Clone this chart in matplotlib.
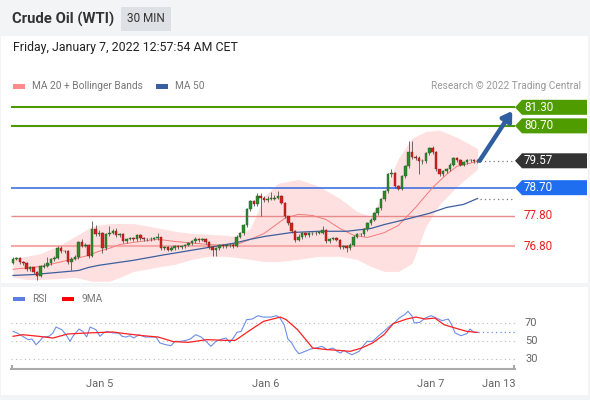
import matplotlib
matplotlib.use("Agg")
import matplotlib.pyplot as plt
from matplotlib.patches import Rectangle, Polygon
from matplotlib.transforms import blended_transform_factory

plt.rcParams['font.family'] = ['Roboto', 'DejaVu Sans']

title = "Crude Oil (WTI)"
interval = "30 MIN"
timestamp = "Friday, January 7, 2022 12:57:54 AM CET"
credit = "Research \u00a9 2022 Trading Central"

# 30 minute candles, open of each bar = previous close
open0 = 76.26
closes = [76.40, 76.42, 76.28, 76.26, 76.06, 76.12, 75.96, 75.85, 76.15, 76.18,
          76.25, 76.38, 76.42, 76.74, 76.65, 76.64, 76.28, 76.40, 76.45, 76.93,
          76.82, 76.85, 76.48, 77.35, 77.19, 77.25, 76.74, 77.19, 77.25, 77.29,
          77.16, 77.19, 76.96, 77.03, 77.06, 77.03, 77.16, 77.06, 77.03, 77.03,
          77.03, 77.06, 77.09, 76.74, 76.77, 76.70, 76.74, 76.80, 76.77, 76.80,
          76.83, 76.90, 76.96, 77.03, 77.00, 77.03, 76.93, 76.77, 76.67, 76.74,
          76.83, 76.80, 76.83, 76.86, 76.80, 77.12, 77.22, 77.48, 78.00, 78.26,
          78.16, 78.42, 78.37, 78.29, 78.35, 78.35, 78.38, 78.42, 78.22, 77.77,
          77.55, 77.29, 77.00, 77.09, 77.22, 77.16, 77.22, 77.22, 77.25, 77.25,
          77.32, 76.96, 77.03, 77.06, 77.00, 76.77, 76.80, 76.74, 76.86, 77.12,
          77.19, 77.19, 77.35, 77.55, 77.67, 77.87, 78.03, 78.32, 78.58, 79.13,
          79.16, 78.74, 78.67, 79.07, 79.39, 79.87, 79.68, 79.65, 79.55, 79.55,
          79.81, 79.97, 79.87, 79.29, 79.13, 79.23, 79.29, 79.45, 79.65, 79.58,
          79.45, 79.52, 79.58, 79.58, 79.55, 79.57]
highs = [76.45, 76.47, 76.46, 76.32, 76.30, 76.17, 76.15, 76.00, 76.20, 76.26,
         76.45, 76.44, 76.50, 76.80, 76.80, 76.70, 76.68, 76.45, 76.52, 76.98,
         77.05, 76.92, 76.88, 77.61, 77.50, 77.32, 77.28, 77.25, 77.45, 77.35,
         77.40, 77.24, 77.22, 77.08, 77.12, 77.10, 77.20, 77.20, 77.10, 77.08,
         77.10, 77.12, 77.22, 77.12, 76.82, 76.80, 76.80, 76.85, 76.84, 76.85,
         76.88, 76.95, 77.02, 77.10, 77.07, 77.08, 77.06, 76.96, 76.80, 76.79,
         76.88, 76.87, 76.88, 76.91, 76.90, 77.16, 77.28, 77.52, 78.05, 78.30,
         78.30, 78.52, 78.52, 78.42, 78.42, 78.55, 78.45, 78.58, 78.45, 78.25,
         77.80, 77.58, 77.32, 77.20, 77.26, 77.26, 77.26, 77.28, 77.30, 77.30,
         77.45, 77.35, 77.08, 77.12, 77.10, 77.03, 76.86, 76.84, 76.90, 77.16,
         77.24, 77.25, 77.40, 77.60, 77.72, 77.92, 78.08, 78.37, 78.64, 79.18,
         79.30, 79.20, 78.80, 79.12, 79.45, 80.20, 80.20, 79.75, 79.72, 79.62,
         79.86, 80.02, 80.05, 79.90, 79.32, 79.28, 79.34, 79.50, 79.70, 79.70,
         79.62, 79.57, 79.63, 79.64, 79.62, 79.62]
lows = [76.22, 76.36, 76.24, 76.20, 76.02, 76.00, 75.90, 75.70, 75.80, 76.10,
        76.12, 76.20, 76.33, 76.38, 76.60, 76.58, 76.22, 76.05, 76.35, 76.40,
        76.78, 76.78, 76.42, 76.45, 77.14, 77.15, 76.58, 76.70, 77.15, 77.20,
        77.10, 77.10, 76.92, 76.92, 77.00, 76.98, 76.98, 77.02, 76.98, 76.98,
        76.98, 77.00, 77.02, 76.70, 76.68, 76.64, 76.66, 76.70, 76.72, 76.73,
        76.76, 76.80, 76.86, 76.92, 76.95, 76.96, 76.88, 76.72, 76.48, 76.48,
        76.70, 76.75, 76.76, 76.78, 76.76, 76.77, 77.08, 77.18, 77.44, 77.95,
        78.10, 78.12, 77.77, 78.24, 78.25, 78.30, 78.30, 78.34, 78.18, 77.72,
        77.50, 77.24, 76.95, 76.96, 77.04, 77.12, 77.12, 77.16, 77.18, 77.20,
        77.20, 76.92, 76.92, 77.00, 76.96, 76.72, 76.72, 76.62, 76.70, 76.82,
        77.08, 77.14, 77.15, 77.30, 77.50, 77.62, 77.82, 77.98, 78.27, 78.52,
        79.05, 78.70, 78.62, 78.62, 79.02, 79.34, 79.62, 79.58, 79.13, 79.48,
        79.50, 79.76, 79.80, 79.24, 79.08, 79.08, 79.18, 79.24, 79.40, 79.52,
        79.40, 79.40, 79.48, 79.52, 79.50, 79.50]

# MA 20 with Bollinger Bands and MA 50, read at sampled bars
ma20_t = [0, 8, 12, 17, 21, 25, 28, 31, 35, 42, 47, 57, 62, 65, 69, 73, 79, 83,
          87, 91, 95, 99, 103, 108, 112, 117, 122, 126, 129, 135]
ma20 = [76.06, 76.15, 76.25, 76.38, 76.48, 76.64, 76.74, 76.86, 76.93, 77.03,
        76.96, 76.86, 76.83, 76.86, 77.03, 77.22, 77.71, 77.84, 77.80, 77.67,
        77.38, 77.16, 77.09, 77.25, 77.48, 78.06, 78.71, 79.13, 79.39, 79.55]
bb_t = [0, 4, 8, 13, 18, 23, 28, 31, 35, 43, 47, 52, 57, 62, 65, 69, 73, 77, 83,
        89, 95, 100, 104, 108, 112, 116, 120, 124, 129, 135]
bb_upper = [76.41, 76.48, 76.57, 76.80, 77.12, 77.45, 77.54, 77.54, 77.54, 77.38,
            77.29, 77.22, 77.19, 77.16, 77.12, 77.38, 78.42, 78.84, 78.97, 78.74,
            78.35, 77.93, 77.77, 78.58, 79.65, 80.30, 80.52, 80.56, 80.33, 79.97]
bb_lower = [75.80, 75.73, 75.73, 75.76, 75.80, 75.67, 75.67, 75.80, 75.99, 76.15,
            76.22, 76.38, 76.48, 76.48, 76.44, 76.38, 76.31, 76.31, 76.38, 76.48,
            76.48, 76.38, 76.15, 75.99, 75.99, 76.25, 77.45, 78.16, 78.74, 79.30]
ma50_t = [0, 6, 19, 22, 25, 35, 43, 57, 64, 69, 73, 81, 89, 97, 104, 108, 114,
          121, 126, 131, 135]
ma50 = [75.86, 75.89, 76.02, 76.12, 76.19, 76.35, 76.51, 76.77, 76.90, 77.03,
        77.12, 77.25, 77.29, 77.29, 77.38, 77.51, 77.67, 77.87, 78.06, 78.16, 78.35]

# RSI and its 9 period MA
rsi_t = [0, 1.2, 2.8, 4.4, 5.5, 6.7, 7.7, 8.7, 10.5, 11.6, 12.5, 14.2, 15.4, 16.6,
         17.4, 19.2, 20.3, 21.4, 22.4, 24.1, 25.3, 26.3, 27.3, 29.1, 30.7, 31.7,
         32.8, 34, 35.1, 36.6, 38.4, 40, 41.6, 42.7, 44.4, 45.9, 47.1, 48.7, 50.3,
         51.5, 53.1, 54.7, 56.4, 57.5, 59, 60.8, 61.9, 63, 64, 65.1, 66.3, 67.9,
         69.5, 71.2, 72.7, 75, 76.6, 77.6, 78.8, 79.9, 81, 82.1, 83.1, 84.9, 86.5,
         88.1, 89.8, 91.3, 93, 94.2, 95.2, 96.2, 97.4, 98.5, 99.6, 100.6, 101.7,
         102.9, 104.5, 106.1, 107.8, 109.4, 111, 112.2, 113.8, 114.8, 116, 116.6,
         118.2, 119.8, 121.5, 123.1, 124.7, 126.5, 127.5, 128.5, 130.2, 131.9,
         132.8, 134, 135.2]
rsi = [60.7, 58.9, 55.2, 51.5, 52.2, 45.9, 49.6, 54.4, 55.2, 58.9, 65.5, 62.6, 57.0,
       49.6, 55.2, 63.3, 60.7, 54.4, 65.5, 62.6, 55.2, 58.9, 60.7, 58.9, 58.9, 55.2,
       54.4, 55.9, 53.3, 57.0, 54.4, 54.4, 54.4, 47.8, 45.9, 44.8, 49.6, 49.6, 50.7,
       52.2, 57.0, 54.4, 48.5, 44.1, 49.6, 52.2, 53.3, 48.5, 53.3, 59.6, 60.7, 73.7,
       74.4, 78.1, 76.6, 76.6, 78.1, 75.5, 68.1, 52.2, 47.8, 40.4, 35.9, 38.5, 41.1,
       42.2, 44.1, 40.4, 42.2, 38.5, 36.7, 39.6, 36.7, 34.8, 36.7, 38.5, 44.1, 49.6,
       49.6, 55.2, 60.7, 66.3, 70.7, 75.5, 79.2, 83.0, 77.4, 70.0, 70.7, 75.5, 78.1,
       75.5, 72.6, 74.4, 68.1, 58.9, 55.9, 58.1, 63.3, 59.6, 59.5]
rsi9_t = [0, 2.8, 7.5, 11.6, 15.9, 21.4, 29, 33.4, 37.8, 42.2, 46.6, 50.9, 56.4,
          61.9, 64.6, 68.4, 72.8, 77.7, 79.4, 82.7, 87.1, 91.4, 94.7, 98, 101.3,
          104.5, 107.8, 110.5, 114.4, 117.1, 119.8, 122.6, 125.3, 128.5, 131.9, 134.9]
rsi9 = [55.2, 57.0, 55.2, 53.3, 57.8, 58.9, 60.0, 57.8, 55.9, 54.4, 49.3, 48.5,
        51.5, 50.7, 50.7, 60.7, 71.8, 76.6, 73.7, 62.6, 42.2, 40.4, 39.6, 38.5,
        42.2, 47.8, 57.0, 69.3, 74.4, 76.6, 74.4, 75.5, 68.1, 64.4, 60.7, 59.6]

levels = [81.30, 80.70, 79.57, 78.70, 77.80, 76.80]
level_kinds = ["resistance", "resistance", "last", "pivot", "support", "support"]
target = 81.30

tick_t = [25.3, 73.3, 121.5, 141.3]
tick_labels = ["Jan 5", "Jan 6", "Jan 7", "Jan 13"]
rsi_levels = [30, 50, 70]

W, H = 590, 400
XMIN, XMAX = -0.58, 145.9


def fx(x):
    return x / W


def fy(y):
    return 1 - y / H


fig = plt.figure(figsize=(5.9, 4), dpi=100, facecolor="#f3f4f6")

# panels
for top, bottom in [(36, 283), (287, 395)]:
    fig.add_artist(Rectangle((fx(1), fy(bottom)), fx(587), (bottom - top) / H,
                             transform=fig.transFigure, facecolor="white",
                             edgecolor="none", zorder=-5))

fig.text(fx(12), fy(19), title, fontsize=10.7, fontweight="bold", color="#333333",
         va="center")
fig.add_artist(Rectangle((fx(121), fy(31)), fx(50), 24 / H, transform=fig.transFigure,
                         facecolor="#dde0e5", edgecolor="none", zorder=-4))
fig.text(fx(146), fy(19), interval, fontsize=8.5, color="#333333", ha="center",
         va="center")
fig.text(fx(13), fy(48), timestamp, fontsize=8.9, color="#222222", va="center")

# legend row
fig.add_artist(Rectangle((fx(13), fy(88.5)), fx(12), 4.5 / H, transform=fig.transFigure,
                         facecolor="#ff8a8a", edgecolor="none"))
fig.text(fx(32), fy(86), "MA 20 + Bollinger Bands", fontsize=7.3, color="#777777",
         va="center")
fig.add_artist(Rectangle((fx(156), fy(88.5)), fx(12), 4.5 / H, transform=fig.transFigure,
                         facecolor="#3a5fa0", edgecolor="none"))
fig.text(fx(175), fy(86), "MA 50", fontsize=7.3, color="#777777", va="center")
fig.text(fx(581), fy(86), credit, fontsize=7.3, color="#999999", va="center", ha="right")

# main price chart
ax = fig.add_axes([fx(11), fy(283.5), 504 / W, (283.5 - 96.5) / H])
ax.set_facecolor("none")
ax.set_xlim(XMIN, XMAX)
ax.set_ylim(75.60, 81.65)
ax.axis("off")

ax.fill_between(bb_t, bb_lower, bb_upper, color="#ffe0e0", lw=0, zorder=1)

ax.hlines(levels[0:2], XMIN, XMAX, color="#4d9a00", lw=1.5, zorder=2)
ax.hlines(levels[3], XMIN, XMAX, color="#3f72e0", lw=1.2, zorder=2)
ax.hlines(levels[4], XMIN, XMAX, color="#e98a8a", lw=1.0, zorder=2)
ax.hlines(levels[5], XMIN, XMAX, color="#f7a8a8", lw=1.5, zorder=2)

ax.plot(ma20_t, ma20, color="#f47a7a", lw=0.7, zorder=3)
ax.plot(ma50_t, ma50, color="#3d5f9f", lw=0.9, zorder=3)

opens = [open0] + closes[:-1]
for i, (o, h, l, c) in enumerate(zip(opens, highs, lows, closes)):
    up = c >= o
    col = "#2d8a2d" if up else "#d42020"
    edge = "#1f5e1f" if up else "#8a1515"
    ax.vlines(i, l, h, color="#555555", lw=0.6, zorder=4)
    ax.add_patch(Rectangle((i - 0.37, min(o, c)), 0.74, max(abs(c - o), 0.025),
                           facecolor=col, edgecolor=edge, lw=0.3, zorder=5))

last_i = len(closes) - 1
ax.hlines(closes[-1], last_i + 0.6, XMAX, color="#777777", lw=0.9,
          linestyles=(0, (1, 2.5)), zorder=3)
ax.hlines(ma50[-1], last_i + 0.6, XMAX, color="#777777", lw=0.9,
          linestyles=(0, (1, 2.5)), zorder=3)
ax.annotate("", xy=(XMAX - 0.8, target - 0.12), xytext=(last_i + 0.6, closes[-1]),
            arrowprops=dict(arrowstyle="-|>,head_length=0.55,head_width=0.35",
                            color="#2f5f9e", lw=3.2, shrinkA=0, shrinkB=0),
            zorder=6)

# level tags on the right
tr = blended_transform_factory(fig.transFigure, ax.transData)
h_tag = 7.5 / 30.9
tag_colors = {"resistance": "#4e9c00", "last": "#333333", "pivot": "#1f6ef0"}
for lv, kind in zip(levels, level_kinds):
    label = f"{lv:.2f}"
    if kind in tag_colors:
        pts = [(fx(515), lv), (fx(522), lv + h_tag), (fx(587), lv + h_tag),
               (fx(587), lv - h_tag), (fx(522), lv - h_tag)]
        ax.add_patch(Polygon(pts, closed=True, transform=tr, facecolor=tag_colors[kind],
                             edgecolor="none", clip_on=False, zorder=7))
        ax.text(fx(524), lv, label, transform=tr, color="white", fontsize=8.4,
                va="center", zorder=8, clip_on=False)
    else:
        ax.text(fx(524), lv, label, transform=tr, color="#e8201c", fontsize=8.4,
                va="center", clip_on=False)

# RSI panel
rax = fig.add_axes([fx(11), fy(369), 504 / W, 64 / H])
rax.set_facecolor("none")
rax.set_xlim(XMIN, XMAX)
rax.set_ylim(18.9, 90)
for s in ["left", "right", "top"]:
    rax.spines[s].set_visible(False)
rax.spines["bottom"].set_color("#aaaaaa")
rax.spines["bottom"].set_linewidth(1.5)
rax.set_yticks([])
rax.set_xticks(tick_t)
rax.set_xticklabels(tick_labels)
rax.tick_params(axis="x", length=0, pad=7, labelsize=8, labelcolor="#666666")
rax.vlines([XMIN + 0.3, XMAX - 0.3], 18.9, 23, color="#aaaaaa", lw=1.5, clip_on=False)

rax.hlines(rsi_levels, XMIN, XMAX, color="#bbbbbb", lw=0.8, linestyles=(0, (1, 3)))
rtr = blended_transform_factory(fig.transFigure, rax.transData)
for lv in rsi_levels:
    rax.text(fx(525), lv, str(lv), transform=rtr, fontsize=8, color="#666666",
             va="center", clip_on=False)

rax.plot(rsi_t, rsi, color="#6d8ee8", lw=0.8)
rax.plot(rsi9_t, rsi9, color="#ff2020", lw=0.9)
rax.hlines(rsi[-1], rsi_t[-1], XMAX, color="#6d8ee8", lw=0.9, linestyles=(0, (1, 2.5)))

fig.add_artist(Rectangle((fx(13), fy(301)), fx(12), 4.5 / H, transform=fig.transFigure,
                         facecolor="#5b7fe0", edgecolor="none"))
fig.text(fx(32), fy(299), "RSI", fontsize=7.3, color="#777777", va="center")
fig.add_artist(Rectangle((fx(62), fy(301)), fx(12), 4.5 / H, transform=fig.transFigure,
                         facecolor="#ff0000", edgecolor="none"))
fig.text(fx(81), fy(299), "9MA", fontsize=7.3, color="#777777", va="center")

fig.savefig("out.png", dpi=100, facecolor=fig.get_facecolor())
plt.close(fig)
